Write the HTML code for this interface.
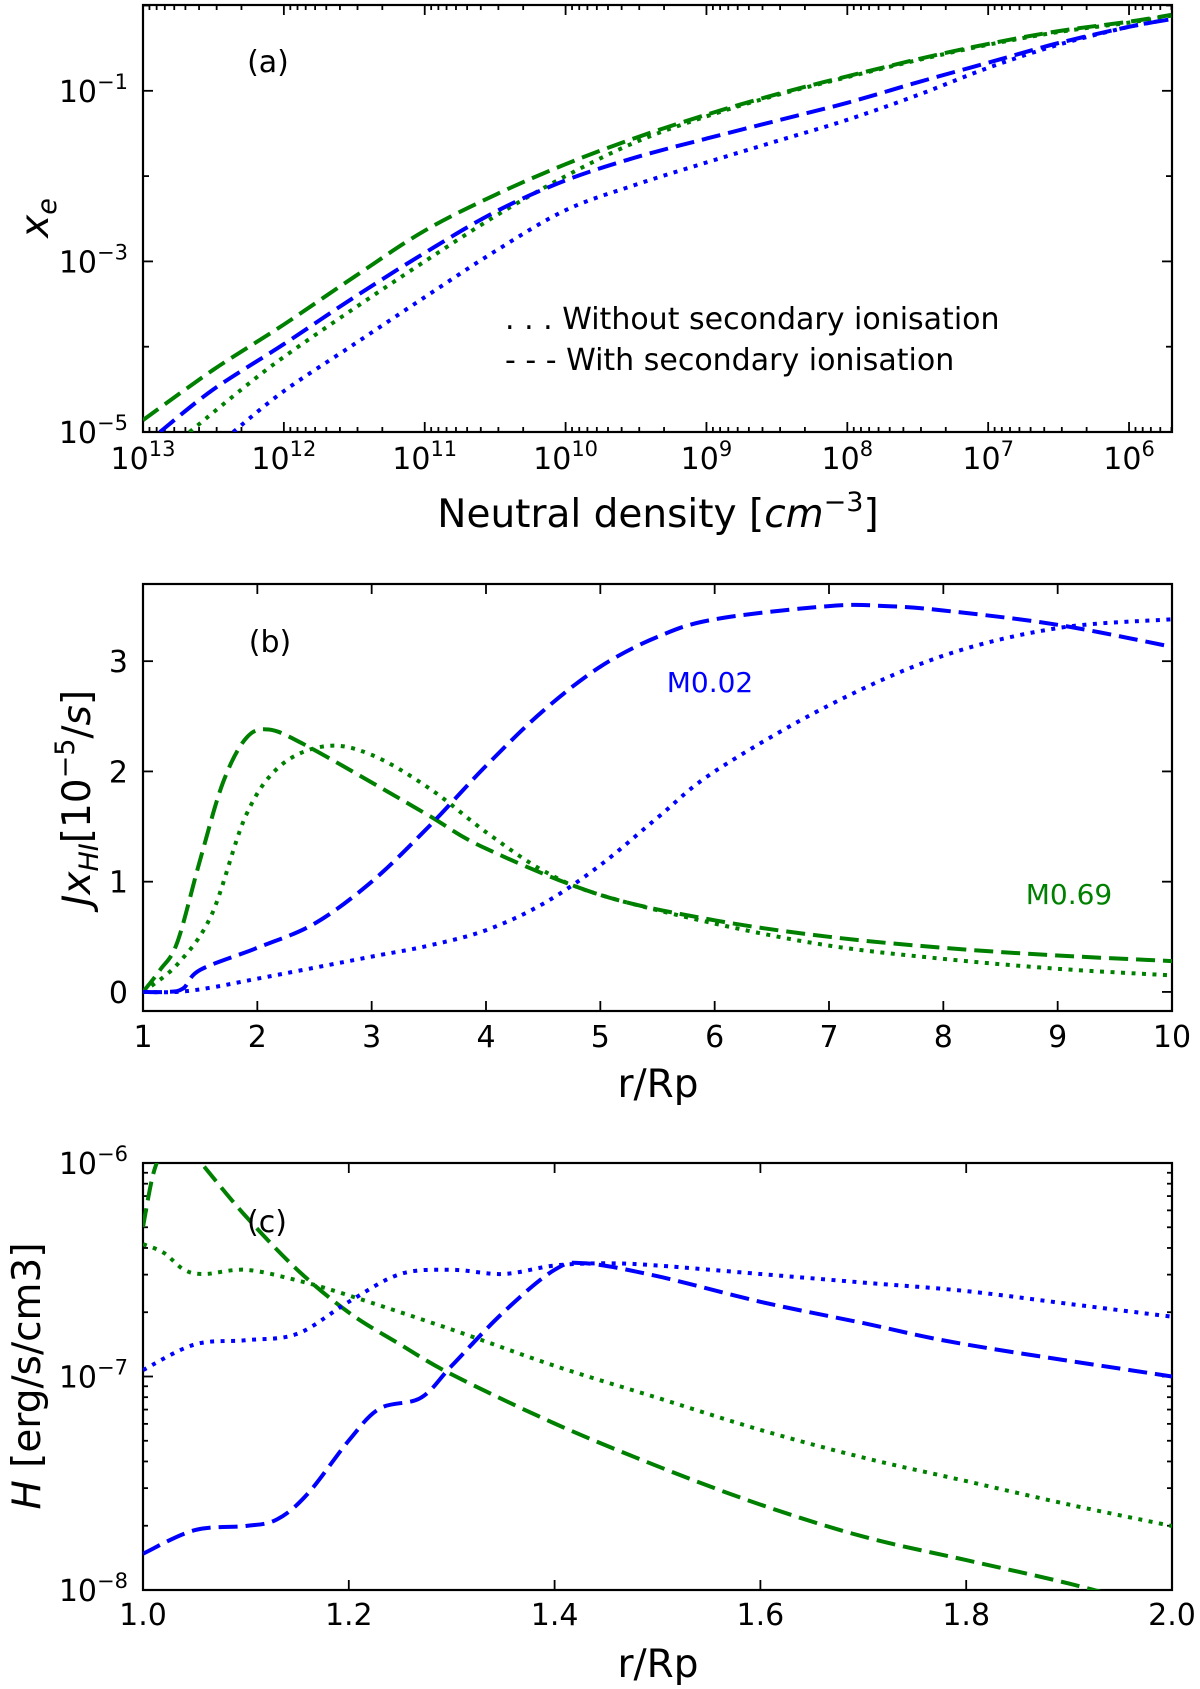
<!DOCTYPE html>
<html><head><meta charset="utf-8"><style>
body{margin:0;background:#fff}
svg{display:block;font-family:"DejaVu Sans","Liberation Sans",sans-serif}
</style></head><body>
<svg id="fig" xmlns="http://www.w3.org/2000/svg" width="1200" height="1689" viewBox="0 0 1200 1689">
<rect width="1200" height="1689" fill="#fff"/>
</svg>
<script>
// ---------- Panel (a) data: log10 density vs log10 xe ----------
const aGreenDashX=[13,12.5,12,11.5,11,10.5,10,9.5,9,8.5,8,7.5,7,6.5,6,5.7];
const aGreenDashY=[-4.86,-4.27,-3.74,-3.18,-2.64,-2.22,-1.86,-1.55,-1.28,-1.04,-0.83,-0.63,-0.45,-0.3,-0.19,-0.11];
const aGreenDotX=[12.67,12.3,12,11.5,11,10.5,10,9.5,9,8.5,8,7.5,7,6.5,6,5.7];
const aGreenDotY=[-5,-4.5,-4.12,-3.55,-3.0,-2.47,-2.0,-1.6,-1.3,-1.05,-0.84,-0.64,-0.46,-0.31,-0.2,-0.12];
const aBlueDashX=[12.88,12.5,12,11.5,11,10.5,10,9.5,9,8.5,8,7.5,7,6.5,6,5.7];
const aBlueDashY=[-5,-4.5,-3.97,-3.42,-2.9,-2.42,-2.05,-1.78,-1.56,-1.35,-1.14,-0.9,-0.67,-0.44,-0.25,-0.16];
const aBlueDotX=[12.36,12,11.5,11,10.5,10,9.5,9,8.5,8,7.5,7,6.5,6,5.7];
const aBlueDotY=[-5,-4.52,-3.97,-3.42,-2.88,-2.4,-2.1,-1.84,-1.59,-1.34,-1.05,-0.73,-0.46,-0.25,-0.16];
const aXTicks=[13,12,11,10,9,8,7,6];
const aYTicks=[-1,-3,-5];
// ---------- Panel (b) data ----------
const bGreenDashX=[1,1.15,1.3,1.5,1.7,1.9,2.1,2.4,3,3.5,4,5,6,7,8,9,10];
const bGreenDashY=[0,0.2,0.45,1.2,1.9,2.3,2.38,2.25,1.9,1.6,1.3,0.88,0.65,0.5,0.4,0.33,0.28];
const bGreenDotX=[1,1.3,1.6,1.9,2.2,2.6,3,3.5,4,4.5,5,6,7,8,9,10];
const bGreenDotY=[0,0.25,0.7,1.6,2.05,2.23,2.15,1.85,1.45,1.1,0.88,0.62,0.42,0.3,0.21,0.15];
const bBlueDashX=[1,1.2,1.35,1.5,2,2.5,3,3.5,4,4.5,5,5.5,6,7,7.5,8,9,10];
const bBlueDashY=[0,0,0.03,0.2,0.4,0.62,1.0,1.5,2.05,2.55,2.95,3.22,3.38,3.5,3.5,3.46,3.33,3.13];
const bBlueDotX=[1,1.3,1.6,2,3,3.5,4,4.5,5,5.5,6,7,8,9,10];
const bBlueDotY=[0,0,0.04,0.12,0.32,0.42,0.56,0.8,1.15,1.58,2.0,2.6,3.05,3.3,3.38];
const bXTicks=[1,2,3,4,5,6,7,8,9,10];
const bYTicks=[0,1,2,3];
// ---------- Panel (c) data: r/Rp vs log10 H ----------
const cGreenDashX=[1.0,1.01,1.02,1.04,1.06,1.1,1.15,1.2,1.25,1.3,1.4,1.5,1.6,1.7,1.8,1.9,2.0];
const cGreenDashY=[-6.3,-6.05,-5.95,-5.9,-6.02,-6.25,-6.5,-6.7,-6.85,-6.99,-7.22,-7.42,-7.6,-7.75,-7.86,-7.97,-8.1];
const cGreenDotX=[1.0,1.02,1.04,1.06,1.1,1.15,1.2,1.3,1.4,1.5,1.6,1.7,1.8,1.9,2.0];
const cGreenDotY=[-6.38,-6.42,-6.5,-6.52,-6.5,-6.55,-6.62,-6.78,-6.95,-7.1,-7.25,-7.38,-7.49,-7.6,-7.7];
const cBlueDotX=[1.0,1.05,1.1,1.15,1.2,1.25,1.3,1.35,1.4,1.45,1.5,1.6,1.7,1.8,1.9,2.0];
const cBlueDotY=[-6.97,-6.85,-6.83,-6.8,-6.65,-6.52,-6.5,-6.52,-6.48,-6.47,-6.48,-6.52,-6.56,-6.6,-6.66,-6.72];
const cBlueDashX=[1.0,1.05,1.1,1.13,1.16,1.2,1.23,1.27,1.3,1.35,1.4,1.43,1.5,1.6,1.7,1.8,2.0];
const cBlueDashY=[-7.83,-7.72,-7.7,-7.67,-7.55,-7.3,-7.15,-7.1,-6.95,-6.7,-6.5,-6.47,-6.53,-6.65,-6.75,-6.85,-7.0];
const cXTicks=[1.0,1.2,1.4,1.6,1.8,2.0];
const cYTicks=[-6,-7,-8];

const NS='http://www.w3.org/2000/svg';
const svg=document.getElementById('fig');
function mk(tag,attrs,parent){const e=document.createElementNS(NS,tag);for(const k in attrs)e.setAttribute(k,attrs[k]);(parent||svg).appendChild(e);return e;}
const GREEN='#008000',BLUE='#0000ff';
const DASH='19 8',DOT='4 6.5';

function panel(name,L,R,T,B,x0,x1,y0,y1){
  const g=mk('g',{});
  
  
  const sx=v=>L+(v-x0)/(x1-x0)*(R-L);
  const sy=v=>B-(v-y0)/(y1-y0)*(B-T);
  const cid='clip-'+name;
  const cp=mk('clipPath',{id:cid},g);mk('rect',{x:L,y:T,width:R-L,height:B-T},cp);
  return {g,sx,sy,L,R,T,B,cid};
}
function smoothPath(pts){
  let d='M'+pts[0][0].toFixed(1)+','+pts[0][1].toFixed(1);
  for(let i=0;i<pts.length-1;i++){
    const p0=pts[Math.max(i-1,0)],p1=pts[i],p2=pts[i+1],p3=pts[Math.min(i+2,pts.length-1)];
    const c1=[p1[0]+(p2[0]-p0[0])/6,p1[1]+(p2[1]-p0[1])/6];
    const c2=[p2[0]-(p3[0]-p1[0])/6,p2[1]-(p3[1]-p1[1])/6];
    d+='C'+c1[0].toFixed(1)+','+c1[1].toFixed(1)+' '+c2[0].toFixed(1)+','+c2[1].toFixed(1)+' '+p2[0].toFixed(1)+','+p2[1].toFixed(1);
  }
  return d;
}
function series(p,xs,ys,color,dash,name){
  const pts=xs.map((x,i)=>[p.sx(x),p.sy(ys[i])]);
  const path=mk('path',{d:smoothPath(pts),fill:'none',stroke:color,'stroke-width':4,'stroke-dasharray':dash,'clip-path':'url(#'+p.cid+')','stroke-linejoin':'round'},p.g);
  
  
}
function frame(p){
  const r=mk('rect',{x:p.L,y:p.T,width:p.R-p.L,height:p.B-p.T,fill:'none',stroke:'#000','stroke-width':2.2},p.g);
  
  
}
function tickX(p,v,len){const x=p.sx(v);mk('line',{x1:x,x2:x,y1:p.B,y2:p.B-len,stroke:'#000','stroke-width':1.8},p.g);mk('line',{x1:x,x2:x,y1:p.T,y2:p.T+len,stroke:'#000','stroke-width':1.8},p.g);}
function tickY(p,v,len){const y=p.sy(v);mk('line',{x1:p.L,x2:p.L+len,y1:y,y2:y,stroke:'#000','stroke-width':1.8},p.g);mk('line',{x1:p.R,x2:p.R-len,y1:y,y2:y,stroke:'#000','stroke-width':1.8},p.g);}
function text(p,x,y,str,opts,name){
  const t=mk('text',Object.assign({x:x,y:y,'font-size':30,fill:'#000'},opts||{}),p.g);
  t.textContent=str;
  
  
  return t;
}
function powLabel(p,x,y,exp,anchor,name){
  const t=mk('text',{x:x,y:y,'font-size':30,fill:'#000','text-anchor':anchor},p.g);
  
  
  const a=mk('tspan',{},t);a.textContent='10';
  const b=mk('tspan',{dy:-13,'font-size':21},t);b.textContent=exp;
  return t;
}

// ===== Panel a =====
const pa=panel('panel-a',143,1172,5,432,13,5.695,-5,0.006);
frame(pa);
for(let dec=13;dec>=5;dec--){for(let m=1;m<10;m++){const v=dec+Math.log10(m);if(v>13||v<5.695)continue;tickX(pa,v,m===1?10:5);}}
for(let dec=-5;dec<=0;dec++){tickY(pa,dec,dec%2?10:6);}
aXTicks.forEach(v=>powLabel(pa,pa.sx(v),469,String(v),'middle','x-tick-label'));
aYTicks.forEach(v=>powLabel(pa,128,pa.sy(v)+11,'\u2212'+Math.abs(v),'end','y-tick-label'));
series(pa,aGreenDashX,aGreenDashY,GREEN,DASH,'a-m069-with-secondary');
series(pa,aGreenDotX,aGreenDotY,GREEN,DOT,'a-m069-without-secondary');
series(pa,aBlueDashX,aBlueDashY,BLUE,DASH,'a-m002-with-secondary');
series(pa,aBlueDotX,aBlueDotY,BLUE,DOT,'a-m002-without-secondary');
text(pa,268,72,'(a)',{'text-anchor':'middle'},'panel-label-a');
text(pa,505,329,'. . . Without secondary ionisation',{},'legend-entry-without');
text(pa,505,370,'- - - With secondary ionisation',{},'legend-entry-with');
const xa=mk('text',{x:658,y:527,'font-size':39,'text-anchor':'middle'},pa.g);

xa.innerHTML='Neutral density [<tspan font-style="italic">cm</tspan><tspan dy="-16" font-size="27">\u22123</tspan><tspan dy="16">]</tspan>';
const ya=mk('text',{transform:'translate(48,218) rotate(-90)','font-size':39,'text-anchor':'middle','font-style':'italic'},pa.g);

ya.innerHTML='x<tspan dy="8" font-size="27">e</tspan>';

// ===== Panel b =====
const pb=panel('panel-b',143,1172,584,1011,1,10,-0.173,3.70);
frame(pb);
bXTicks.forEach(v=>tickX(pb,v,10));
bYTicks.forEach(v=>tickY(pb,v,10));
bXTicks.forEach(v=>text(pb,pb.sx(v),1047,String(v),{'text-anchor':'middle'},'x-tick-label'));
bYTicks.forEach(v=>text(pb,128,pb.sy(v)+11,String(v),{'text-anchor':'end'},'y-tick-label'));
series(pb,bGreenDashX,bGreenDashY,GREEN,DASH,'b-m069-with-secondary');
series(pb,bGreenDotX,bGreenDotY,GREEN,DOT,'b-m069-without-secondary');
series(pb,bBlueDashX,bBlueDashY,BLUE,DASH,'b-m002-with-secondary');
series(pb,bBlueDotX,bBlueDotY,BLUE,DOT,'b-m002-without-secondary');
text(pb,270,652,'(b)',{'text-anchor':'middle'},'panel-label-b');
text(pb,710,692,'M0.02',{'text-anchor':'middle',fill:BLUE,'font-size':28},'label-m002');
text(pb,1069,904,'M0.69',{'text-anchor':'middle',fill:GREEN,'font-size':28},'label-m069');
text(pb,658,1097,'r/Rp',{'text-anchor':'middle','font-size':39},'x-axis-title-b');
const yb=mk('text',{transform:'translate(90,798) rotate(-90)','font-size':39,'text-anchor':'middle'},pb.g);

yb.innerHTML='<tspan font-style="italic">Jx</tspan><tspan dy="8" font-size="27" font-style="italic">HI</tspan><tspan dy="-8">[10</tspan><tspan dy="-16" font-size="27">\u22125</tspan><tspan dy="16">/</tspan><tspan font-style="italic">s</tspan>]';

// ===== Panel c =====
const pc=panel('panel-c',143,1172,1163,1590,1.0,2.0,-8,-6);
frame(pc);
cXTicks.forEach(v=>tickX(pc,v,10));
for(let dec=-8;dec<-6;dec++){for(let m=1;m<10;m++){tickY(pc,dec+Math.log10(m),m===1?10:5);}}
tickY(pc,-6,10);
cXTicks.forEach(v=>text(pc,pc.sx(v),1625,v.toFixed(1),{'text-anchor':'middle'},'x-tick-label'));
cYTicks.forEach(v=>powLabel(pc,128,pc.sy(v)+11,'\u2212'+Math.abs(v),'end','y-tick-label'));
series(pc,cGreenDashX,cGreenDashY,GREEN,DASH,'c-m069-with-secondary');
series(pc,cGreenDotX,cGreenDotY,GREEN,DOT,'c-m069-without-secondary');
series(pc,cBlueDashX,cBlueDashY,BLUE,DASH,'c-m002-with-secondary');
series(pc,cBlueDotX,cBlueDotY,BLUE,DOT,'c-m002-without-secondary');
text(pc,267,1232,'(c)',{'text-anchor':'middle'},'panel-label-c');
text(pc,658,1677,'r/Rp',{'text-anchor':'middle','font-size':39},'x-axis-title-c');
const yc=mk('text',{transform:'translate(40,1376) rotate(-90)','font-size':39,'text-anchor':'middle'},pc.g);

yc.innerHTML='<tspan font-style="italic">H</tspan> [erg/s/cm3]';
</script>
</body></html>
